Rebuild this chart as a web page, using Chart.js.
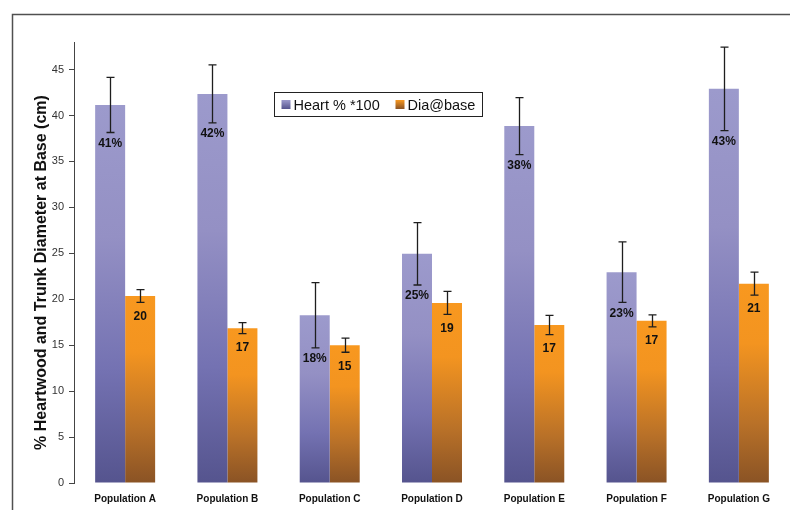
<!DOCTYPE html>
<html>
<head>
<meta charset="utf-8">
<script src="https://cdn.jsdelivr.net/npm/chart.js@4/dist/chart.umd.min.js"></script>
<style>
  html, body { margin: 0; padding: 0; background: #ffffff; }
  #wrap { width: 790px; height: 510px; position: relative; }
</style>
</head>
<body>
<div id="wrap"><canvas id="c" width="790" height="510"></canvas></div>
<script>
const categories = ["Population A", "Population B", "Population C", "Population D", "Population E", "Population F", "Population G"];
const heartValues = [41.15, 42.35, 18.25, 24.95, 38.85, 22.95, 42.9];
const heartErrors = [3.0, 3.15, 3.55, 3.4, 3.1, 3.3, 4.55];
const heartLabels = ["41%", "42%", "18%", "25%", "38%", "23%", "43%"];
const diaValues = [20.35, 16.85, 15.0, 19.6, 17.2, 17.65, 21.7];
const diaErrors = [0.7, 0.6, 0.77, 1.25, 1.05, 0.65, 1.25];
const diaLabels = ["20", "17", "15", "19", "17", "17", "21"];
const seriesNames = ["Heart % *100", "Dia@base"];
const yTicks = [0, 5, 10, 15, 20, 25, 30, 35, 40, 45];
const yTitle = "% Heartwood and Trunk Diameter at Base (cm)";

const FONT = "Arial, 'Liberation Sans', sans-serif";

const purpleStops = [[0, "#9c9acc"], [0.35, "#9490c4"], [0.7, "#7472b2"], [1, "#55548e"]];
const orangeStops = [[0, "#f8981f"], [0.3, "#f39420"], [0.7, "#b97128"], [1, "#8a5325"]];

function gradientFill(stops) {
  return function (ctx) {
    const chart = ctx.chart;
    if (!chart.chartArea || ctx.type !== 'data' || !ctx.parsed) return stops[0][1];
    const y = chart.scales.y;
    const top = y.getPixelForValue(ctx.parsed.y);
    const base = y.getPixelForValue(0);
    const g = chart.ctx.createLinearGradient(0, top, 0, base);
    stops.forEach(s => g.addColorStop(s[0], s[1]));
    return g;
  };
}

const errorLists = [heartErrors, diaErrors];
const labelLists = [heartLabels, diaLabels];
const labelOffsets = [11, 14];

const framePlugin = {
  id: 'frame',
  beforeDraw(chart) {
    const c = chart.ctx;
    c.save();
    c.fillStyle = '#ffffff';
    c.fillRect(0, 0, chart.width, chart.height);
    c.strokeStyle = '#505050';
    c.lineWidth = 1.5;
    c.strokeRect(12.5, 14.5, chart.width + 50, chart.height + 50);
    c.restore();
  },
  afterDraw(chart) {
    const c = chart.ctx;
    const a = chart.chartArea;
    c.save();
    c.translate(41.5, (a.top + a.bottom) / 2 + 10);
    c.rotate(-Math.PI / 2);
    c.fillStyle = '#111111';
    c.font = 'bold 16px ' + FONT;
    c.textAlign = 'center';
    c.textBaseline = 'middle';
    c.fillText(yTitle, 0, 0);
    c.restore();
  }
};

const errorPlugin = {
  id: 'errbars',
  afterDatasetsDraw(chart) {
    const c = chart.ctx;
    const y = chart.scales.y;
    c.save();
    chart.data.datasets.forEach((ds, di) => {
      const meta = chart.getDatasetMeta(di);
      const errs = errorLists[di];
      const labs = labelLists[di];
      meta.data.forEach((bar, i) => {
        const v = ds.data[i];
        const e = errs[i];
        const yt = y.getPixelForValue(v + e);
        const yb = y.getPixelForValue(v - e);
        const x = Math.round(bar.x) + 0.5;
        c.strokeStyle = '#1e1e1e';
        c.lineWidth = 1.3;
        c.beginPath();
        c.moveTo(x, yt); c.lineTo(x, yb);
        c.moveTo(x - 4, yt); c.lineTo(x + 4, yt);
        c.moveTo(x - 4, yb); c.lineTo(x + 4, yb);
        c.stroke();
        c.fillStyle = '#111111';
        c.font = 'bold 12px ' + FONT;
        c.textAlign = 'center';
        c.textBaseline = 'middle';
        c.fillText(labs[i], bar.x, yb + labelOffsets[di]);
      });
    });
    c.restore();
  }
};

const legendPlugin = {
  id: 'boxlegend',
  afterDraw(chart) {
    const c = chart.ctx;
    const a = chart.chartArea;
    const x0 = a.left + 200.5, y0 = a.top + 50.5, w = 208, h = 24;
    c.save();
    c.fillStyle = '#ffffff';
    c.fillRect(x0, y0, w, h);
    c.strokeStyle = '#222222';
    c.lineWidth = 1;
    c.strokeRect(x0, y0, w, h);
    c.font = '14.5px ' + FONT;
    c.textBaseline = 'middle';
    c.textAlign = 'left';
    const cy = y0 + h / 2;
    const items = [[seriesNames[0], purpleStops, 7], [seriesNames[1], orangeStops, 121]];
    items.forEach(([name, stops, dx]) => {
      const mx = x0 + dx, my = cy - 4.5;
      const g = c.createLinearGradient(0, my, 0, my + 9);
      g.addColorStop(0, stops[0][1]);
      g.addColorStop(1, stops[stops.length - 1][1]);
      c.fillStyle = g;
      c.fillRect(mx, my, 9, 9);
      c.fillStyle = '#111111';
      c.fillText(name, mx + 12, cy + 1);
    });
    c.restore();
  }
};

new Chart(document.getElementById('c'), {
  type: 'bar',
  data: {
    labels: categories,
    datasets: [
      { label: seriesNames[0], data: heartValues, backgroundColor: gradientFill(purpleStops), borderWidth: 0 },
      { label: seriesNames[1], data: diaValues, backgroundColor: gradientFill(orangeStops), borderWidth: 0 }
    ]
  },
  options: {
    responsive: false,
    animation: false,
    devicePixelRatio: 1,
    categoryPercentage: 0.5865,
    barPercentage: 1,
    layout: { padding: { left: 32, top: 42, right: 0, bottom: 0 } },
    plugins: {
      legend: { display: false },
      tooltip: { enabled: false },
      title: { display: false }
    },
    scales: {
      x: {
        grid: { display: false },
        border: { display: false },
        ticks: { color: '#111111', font: { family: FONT, size: 10, weight: 'bold' }, padding: 2, maxRotation: 0 },
        afterFit(scale) { scale.height = 27; }
      },
      y: {
        min: 0,
        max: 48,
        afterBuildTicks(scale) { scale.ticks = yTicks.map(v => ({ value: v })); },
        ticks: { color: '#333333', font: { family: FONT, size: 11 }, padding: 5 },
        grid: { drawOnChartArea: false, drawTicks: true, tickLength: 5, color: '#444444' },
        border: { display: true, color: '#444444', width: 1 },
        title: { display: false, text: yTitle },
        afterFit(scale) { scale.width = 42; }
      }
    }
  },
  plugins: [framePlugin, errorPlugin, legendPlugin]
});
</script>
</body>
</html>
